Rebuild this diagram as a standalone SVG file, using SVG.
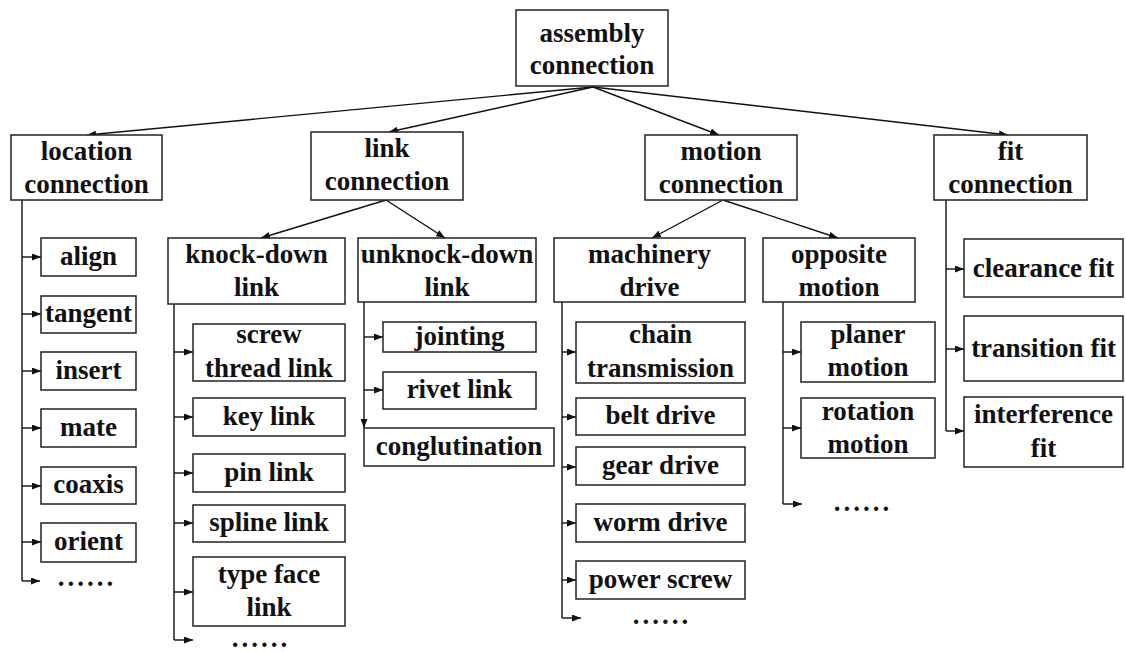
<svg xmlns="http://www.w3.org/2000/svg" width="1126" height="652" viewBox="0 0 1126 652">
<style>
.box{fill:#fff;stroke:#222;stroke-width:1.5}
.t{font-family:"Liberation Serif","Times New Roman",serif;font-weight:bold;font-size:27px;fill:#111;text-anchor:middle}
.dots{letter-spacing:3px}
.c{fill:none;stroke:#111;stroke-width:1.4}
.a{fill:none;stroke:#111;stroke-width:1.4;marker-end:url(#ah)}
</style>
<defs>
<marker id="ah" markerWidth="9" markerHeight="7" refX="9" refY="3.5" orient="auto" markerUnits="userSpaceOnUse">
<path d="M0,0 L9,3.5 L0,7 z" fill="#111"/>
</marker>
</defs>
<rect width="1126" height="652" fill="#fff"/>
<g id="connectors">
<path class="a" d="M593,87 L87,135"/>
<path class="a" d="M593,87 L389,132"/>
<path class="a" d="M593,87 L719,135"/>
<path class="a" d="M593,87 L1008,135"/>
<path class="a" d="M386,200 L261,238"/>
<path class="a" d="M386,200 L445,238"/>
<path class="a" d="M723,200 L652,238"/>
<path class="a" d="M723,200 L838,238"/>
<path class="c" d="M22,200 V581"/>
<path class="a" d="M22,257 H41"/><path class="a" d="M22,314 H41"/><path class="a" d="M22,371 H41"/><path class="a" d="M22,428 H41"/><path class="a" d="M22,486 H41"/><path class="a" d="M22,542 H41"/><path class="a" d="M22,581 H40"/>
<path class="c" d="M174,304 V640"/>
<path class="a" d="M174,352 H193"/><path class="a" d="M174,417 H193"/><path class="a" d="M174,473 H193"/><path class="a" d="M174,523 H193"/><path class="a" d="M174,592 H193"/><path class="a" d="M174,640 H193"/>
<path class="a" d="M364,302 V428"/>
<path class="a" d="M364,337 H383"/><path class="a" d="M364,390 H383"/>
<path class="c" d="M562,302 V618"/>
<path class="a" d="M562,352 H576"/><path class="a" d="M562,417 H576"/><path class="a" d="M562,467 H576"/><path class="a" d="M562,523 H576"/><path class="a" d="M562,580 H576"/><path class="a" d="M562,618 H581"/>
<path class="c" d="M783,302 V504"/>
<path class="a" d="M783,352 H801"/><path class="a" d="M783,428 H801"/><path class="a" d="M783,504 H802"/>
<path class="c" d="M946,200 V431"/>
<path class="a" d="M946,269 H964"/><path class="a" d="M946,349 H964"/><path class="a" d="M946,431 H964"/>
</g>
<g id="assembly-connection"><rect class="box" x="516" y="10" width="152" height="76"/><text class="t" x="592" y="42">assembly</text><text class="t" x="592" y="74">connection</text></g>
<g id="location-connection"><rect class="box" x="11" y="135" width="151" height="65"/><text class="t" x="86.5" y="160">location</text><text class="t" x="86.5" y="193">connection</text></g>
<g id="link-connection"><rect class="box" x="311" y="132" width="152" height="68"/><text class="t" x="387" y="157">link</text><text class="t" x="387" y="190">connection</text></g>
<g id="motion-connection"><rect class="box" x="645" y="135" width="152" height="65"/><text class="t" x="721" y="160">motion</text><text class="t" x="721" y="193">connection</text></g>
<g id="fit-connection"><rect class="box" x="934" y="135" width="153" height="65"/><text class="t" x="1010.5" y="160">fit</text><text class="t" x="1010.5" y="193">connection</text></g>
<g id="knock-down-link"><rect class="box" x="168" y="238" width="177" height="66"/><text class="t" x="256.5" y="263">knock-down</text><text class="t" x="256.5" y="296">link</text></g>
<g id="unknock-down-link"><rect class="box" x="358" y="238" width="178" height="64"/><text class="t" x="447" y="263">unknock-down</text><text class="t" x="447" y="296">link</text></g>
<g id="machinery-drive"><rect class="box" x="554" y="238" width="191" height="64"/><text class="t" x="649.5" y="263">machinery</text><text class="t" x="649.5" y="296">drive</text></g>
<g id="opposite-motion"><rect class="box" x="763" y="238" width="152" height="64"/><text class="t" x="839" y="263">opposite</text><text class="t" x="839" y="296">motion</text></g>
<g id="align"><rect class="box" x="41" y="238" width="95" height="38"/><text class="t" x="88.5" y="265">align</text></g>
<g id="tangent"><rect class="box" x="41" y="296" width="95" height="37"/><text class="t" x="88.5" y="322">tangent</text></g>
<g id="insert"><rect class="box" x="41" y="352" width="95" height="38"/><text class="t" x="88.5" y="379">insert</text></g>
<g id="mate"><rect class="box" x="41" y="409" width="95" height="38"/><text class="t" x="88.5" y="436">mate</text></g>
<g id="coaxis"><rect class="box" x="41" y="467" width="95" height="37"/><text class="t" x="88.5" y="493">coaxis</text></g>
<g id="orient"><rect class="box" x="41" y="523" width="95" height="39"/><text class="t" x="88.5" y="550">orient</text></g>
<g id="location-more"><text class="t dots" x="87" y="586">......</text></g>
<g id="screw-thread-link"><rect class="box" x="193" y="324" width="152" height="57"/><text class="t" x="269" y="343">screw</text><text class="t" x="269" y="377">thread link</text></g>
<g id="key-link"><rect class="box" x="193" y="398" width="152" height="38"/><text class="t" x="269" y="425">key link</text></g>
<g id="pin-link"><rect class="box" x="193" y="454" width="152" height="38"/><text class="t" x="269" y="481">pin link</text></g>
<g id="spline-link"><rect class="box" x="193" y="505" width="152" height="37"/><text class="t" x="269" y="531">spline link</text></g>
<g id="type-face-link"><rect class="box" x="193" y="557" width="152" height="69"/><text class="t" x="269" y="583">type face</text><text class="t" x="269" y="616">link</text></g>
<g id="knock-more"><text class="t dots" x="261" y="647">......</text></g>
<g id="jointing"><rect class="box" x="383" y="322" width="153" height="30"/><text class="t" x="459.5" y="345">jointing</text></g>
<g id="rivet-link"><rect class="box" x="383" y="372" width="153" height="37"/><text class="t" x="459.5" y="398">rivet link</text></g>
<g id="conglutination"><rect class="box" x="364" y="428" width="190" height="38"/><text class="t" x="459" y="455">conglutination</text></g>
<g id="chain-transmission"><rect class="box" x="576" y="322" width="169" height="61"/><text class="t" x="660.5" y="343">chain</text><text class="t" x="660.5" y="377">transmission</text></g>
<g id="belt-drive"><rect class="box" x="576" y="398" width="169" height="37"/><text class="t" x="660.5" y="424">belt drive</text></g>
<g id="gear-drive"><rect class="box" x="576" y="447" width="169" height="38"/><text class="t" x="660.5" y="474">gear drive</text></g>
<g id="worm-drive"><rect class="box" x="576" y="504" width="169" height="38"/><text class="t" x="660.5" y="531">worm drive</text></g>
<g id="power-screw"><rect class="box" x="576" y="561" width="169" height="38"/><text class="t" x="660.5" y="588">power screw</text></g>
<g id="machinery-more"><text class="t dots" x="662" y="624">......</text></g>
<g id="planer-motion"><rect class="box" x="801" y="322" width="134" height="60"/><text class="t" x="868" y="343">planer</text><text class="t" x="868" y="376">motion</text></g>
<g id="rotation-motion"><rect class="box" x="801" y="398" width="134" height="60"/><text class="t" x="868" y="420">rotation</text><text class="t" x="868" y="453">motion</text></g>
<g id="opposite-more"><text class="t dots" x="863" y="511">......</text></g>
<g id="clearance-fit"><rect class="box" x="964" y="239" width="159" height="58"/><text class="t" x="1043.5" y="277">clearance fit</text></g>
<g id="transition-fit"><rect class="box" x="964" y="316" width="159" height="65"/><text class="t" x="1043.5" y="357">transition fit</text></g>
<g id="interference-fit"><rect class="box" x="964" y="397" width="159" height="70"/><text class="t" x="1043.5" y="423">interference</text><text class="t" x="1043.5" y="457">fit</text></g>
</svg>
